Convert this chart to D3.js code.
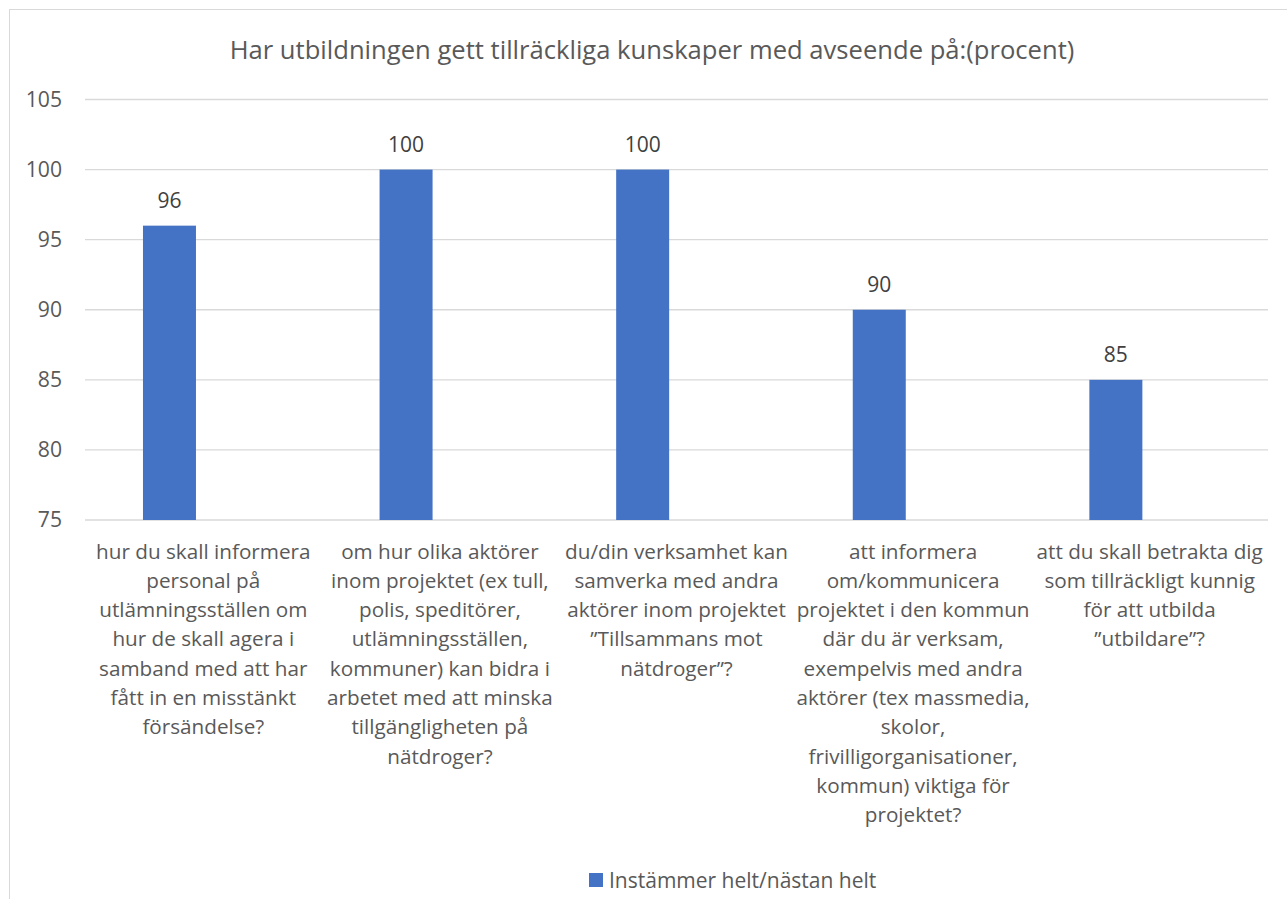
<!DOCTYPE html>
<html>
<head>
<meta charset="utf-8">
<script src="https://cdn.jsdelivr.net/npm/d3@7"></script>
<style>
  body { margin: 0; background: #fff; }
  svg { font-family: "Open Sans", "Noto Sans", sans-serif; }
</style>
</head>
<body>
<svg id="chart"></svg>
<script>
const categories = [
  ['hur du skall informera', 'personal på', 'utlämningsställen om', 'hur de skall agera i', 'samband med att har', 'fått in en misstänkt', 'försändelse?'],
  ['om hur olika aktörer', 'inom projektet (ex tull,', 'polis, speditörer,', 'utlämningsställen,', 'kommuner) kan bidra i', 'arbetet med att minska', 'tillgängligheten på', 'nätdroger?'],
  ['du/din verksamhet kan', 'samverka med andra', 'aktörer inom projektet', '”Tillsammans mot', 'nätdroger”?'],
  ['att informera', 'om/kommunicera', 'projektet i den kommun', 'där du är verksam,', 'exempelvis med andra', 'aktörer (tex massmedia,', 'skolor,', 'frivilligorganisationer,', 'kommun) viktiga för', 'projektet?'],
  ['att du skall betrakta dig', 'som tillräckligt kunnig', 'för att utbilda', '”utbildare”?']
]
const values = [96, 100, 100, 90, 85]
const yTicks = [75, 80, 85, 90, 95, 100, 105]
const seriesName = 'Instämmer helt/nästan helt'
const title = 'Har utbildningen gett tillräckliga kunskaper med avseende på:(procent)'

const width = 1287
const height = 899
const plotLeft = 85, plotRight = 1268, plotTop = 99.5, plotBottom = 520
const barColor = '#4472C4'

const svg = d3.select('#chart').attr('width', width).attr('height', height)

// outer chart border
svg.append('rect')
  .attr('x', 9.5).attr('y', 9.5)
  .attr('width', 1290).attr('height', 900)
  .attr('fill', 'none')
  .attr('stroke', '#d9d9d9')

svg.append('text')
  .attr('x', 652)
  .attr('y', 59)
  .attr('text-anchor', 'middle')
  .attr('font-size', 25.6)
  .attr('fill', '#595959')
  .text(title)

const idx = d3.range(values.length)
const xScale = d3.scaleBand().domain(idx).range([plotLeft, plotRight])
const yScale = d3.scaleLinear().domain([75, 105]).range([plotBottom, plotTop])

// gridlines
svg.append('g')
  .selectAll('line')
  .data(yTicks)
  .enter()
  .append('line')
  .attr('x1', plotLeft).attr('x2', plotRight)
  .attr('y1', (d) => yScale(d)).attr('y2', (d) => yScale(d))
  .attr('stroke', '#d9d9d9')
  .attr('stroke-width', 1.3)

const yAxis = svg.append('g')
  .attr('transform', `translate(${plotLeft}, 0)`)
  .call(d3.axisLeft(yScale).tickValues(yTicks).tickSize(0).tickPadding(23))
yAxis.select('.domain').remove()
yAxis.selectAll('text')
  .attr('font-size', 21.2)
  .attr('font-family', '"Open Sans", "Noto Sans", sans-serif')
  .attr('fill', '#595959')

const bw = xScale.bandwidth()
const barOffset = 0.245 * bw
const barWidth = 0.224 * bw

svg.selectAll('.bars')
  .data(values)
  .enter()
  .append('rect')
  .attr('class', 'bars')
  .attr('fill', barColor)
  .attr('x', (d, i) => xScale(i) + barOffset)
  .attr('y', (d) => yScale(d))
  .attr('width', barWidth)
  .attr('height', (d) => plotBottom - yScale(d))

svg.selectAll('.val')
  .data(values)
  .enter()
  .append('text')
  .attr('class', 'val')
  .attr('x', (d, i) => xScale(i) + barOffset + barWidth / 2)
  .attr('y', (d) => yScale(d) - 18)
  .attr('text-anchor', 'middle')
  .attr('font-size', 21)
  .attr('fill', '#404040')
  .text((d) => d)

// category labels
const catG = svg.append('g')
categories.forEach((lines, i) => {
  const t = catG.append('text')
    .attr('text-anchor', 'middle')
    .attr('font-size', 20.7)
    .attr('fill', '#595959')
  lines.forEach((ln, j) => {
    t.append('tspan')
      .attr('x', xScale(i) + bw / 2)
      .attr('y', 558.5 + j * 29.3)
      .text(ln)
  })
})

// legend
const lg = svg.append('g')
lg.append('rect')
  .attr('x', 589).attr('y', 873)
  .attr('width', 14).attr('height', 14)
  .attr('fill', barColor)
lg.append('text')
  .attr('x', 609).attr('y', 887.5)
  .attr('font-size', 21)
  .attr('fill', '#595959')
  .text(seriesName)
</script>
</body>
</html>
